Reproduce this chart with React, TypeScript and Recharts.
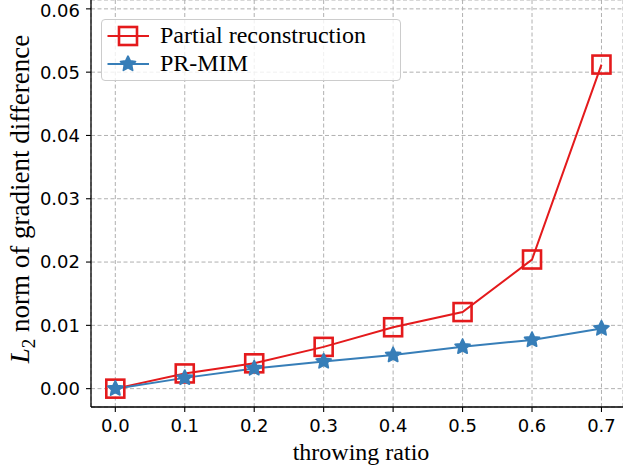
import React from "react";
import { LineChart, Line, XAxis, YAxis, CartesianGrid, Legend } from "recharts";

const ratios = [0.0, 0.1, 0.2, 0.3, 0.4, 0.5, 0.6, 0.7];
const partialValues = [0.0, 0.0024, 0.004, 0.0066, 0.0097, 0.0121, 0.0204, 0.0512];
const prmimValues = [0.0, 0.0017, 0.0032, 0.0043, 0.0053, 0.0066, 0.0077, 0.0095];
const xTicks = [0.0, 0.1, 0.2, 0.3, 0.4, 0.5, 0.6, 0.7];
const yTicks = [0.0, 0.01, 0.02, 0.03, 0.04, 0.05, 0.06];
const seriesNames = ["Partial reconstruction", "PR-MIM"];

const RED = "#e41a1c";
const BLUE = "#377eb8";
const SERIF = "'Liberation Serif', 'Times New Roman', serif";
const SANS = "'DejaVu Sans', sans-serif";

const data = ratios.map((r, i) => ({ ratio: r, partial: partialValues[i], prmim: prmimValues[i] }));

function starPath(cx: number, cy: number, R: number, r: number) {
  let d = "";
  for (let i = 0; i < 10; i++) {
    const rad = i % 2 === 0 ? R : r;
    const a = -Math.PI / 2 + (i * Math.PI) / 5;
    const x = cx + rad * Math.cos(a);
    const y = cy + rad * Math.sin(a);
    d += (i === 0 ? "M" : "L") + x.toFixed(2) + "," + y.toFixed(2);
  }
  return d + "Z";
}

const SquareDot = (props: any) => {
  const { cx, cy, index } = props;
  if (cx == null || cy == null) return null;
  return (
    <rect key={"sq" + index} x={cx - 9} y={cy - 9} width={18} height={18} fill="none" stroke={RED} strokeWidth={2.6} />
  );
};

const StarDot = (props: any) => {
  const { cx, cy, index } = props;
  if (cx == null || cy == null) return null;
  return (
    <path key={"st" + index} d={starPath(cx, cy, 7.8, 3.8)} fill={BLUE} stroke={BLUE} strokeWidth={1.8} strokeLinejoin="round" />
  );
};

const LegendBox = () => (
  <div
    style={{
      width: 298,
      height: 60,
      border: "1px solid #cccccc",
      borderRadius: 4,
      background: "rgba(255,255,255,0.8)",
      position: "relative",
      boxSizing: "content-box",
    }}
  >
    <svg width={60} height={60} style={{ position: "absolute", left: 0, top: 0 }}>
      <line x1={5.5} x2={47} y1={16} y2={16} stroke={RED} strokeWidth={2} />
      <rect x={26 - 9} y={16 - 9} width={18} height={18} fill="none" stroke={RED} strokeWidth={2.6} />
      <line x1={5.5} x2={47} y1={44} y2={44} stroke={BLUE} strokeWidth={2} />
      <path d={starPath(26, 44, 7.8, 3.8)} fill={BLUE} stroke={BLUE} strokeWidth={1.8} strokeLinejoin="round" />
    </svg>
    <div style={{ position: "absolute", left: 58, top: 1, fontFamily: SERIF, fontSize: 24, lineHeight: "28px", color: "#000", whiteSpace: "nowrap" }}>
      {seriesNames[0]}
    </div>
    <div style={{ position: "absolute", left: 58, top: 29, fontFamily: SERIF, fontSize: 24, lineHeight: "28px", color: "#000", whiteSpace: "nowrap" }}>
      {seriesNames[1]}
    </div>
  </div>
);

const YLabel = () => (
  <text
    x={28.5}
    y={199}
    transform="rotate(-90, 28.5, 199)"
    textAnchor="middle"
    fontFamily={SERIF}
    fontSize={27}
    fill="#000"
  >
    <tspan fontStyle="italic">L</tspan>
    <tspan fontSize={19} dy={6}>2</tspan>
    <tspan dy={-6}> norm of gradient difference</tspan>
  </text>
);

const XLabel = () => (
  <text x={361} y={460} textAnchor="middle" fontFamily={SERIF} fontSize={24} fill="#000">
    throwing ratio
  </text>
);

export default function App() {
  return (
    <div style={{ position: "absolute", left: 0, top: 0, width: 623, height: 468, background: "#fff" }}>
      <LineChart width={623} height={468} data={data} margin={{ top: 0, right: 0, left: 0, bottom: 0 }}>
        <CartesianGrid stroke="#b0b0b0" strokeDasharray="4 2.5" strokeWidth={1} />
        <XAxis
          dataKey="ratio"
          type="number"
          domain={[-0.035, 0.731]}
          ticks={xTicks}
          tickFormatter={(v: number) => v.toFixed(1)}
          allowDataOverflow
          height={61}
          tickSize={5}
          tickMargin={7}
          stroke="#000"
          axisLine={{ stroke: "#000", strokeWidth: 1.3 }}
          tickLine={{ stroke: "#000", strokeWidth: 1.1 }}
          tick={{ fill: "#000", fontSize: 18, fontFamily: SANS }}
          label={{ content: () => <XLabel /> }}
        />
        <YAxis
          type="number"
          domain={[-0.0029, 0.0614]}
          ticks={yTicks}
          tickFormatter={(v: number) => v.toFixed(2)}
          allowDataOverflow
          width={91}
          tickSize={5}
          tickMargin={6}
          stroke="#000"
          axisLine={{ stroke: "#000", strokeWidth: 1.3 }}
          tickLine={{ stroke: "#000", strokeWidth: 1.1 }}
          tick={{ fill: "#000", fontSize: 18, fontFamily: SANS }}
          label={{ content: () => <YLabel /> }}
        />
        <Legend
          layout="horizontal"
          verticalAlign="middle"
          align="center"
          content={() => <LegendBox />}
          wrapperStyle={{ position: "absolute", left: 101, top: 19, width: 300, height: 62 }}
        />
        <Line
          dataKey="partial"
          name={seriesNames[0]}
          stroke={RED}
          strokeWidth={2}
          dot={SquareDot}
          activeDot={false}
          isAnimationActive={false}
        />
        <Line
          dataKey="prmim"
          name={seriesNames[1]}
          stroke={BLUE}
          strokeWidth={2}
          dot={StarDot}
          activeDot={false}
          isAnimationActive={false}
        />
      </LineChart>
    </div>
  );
}
